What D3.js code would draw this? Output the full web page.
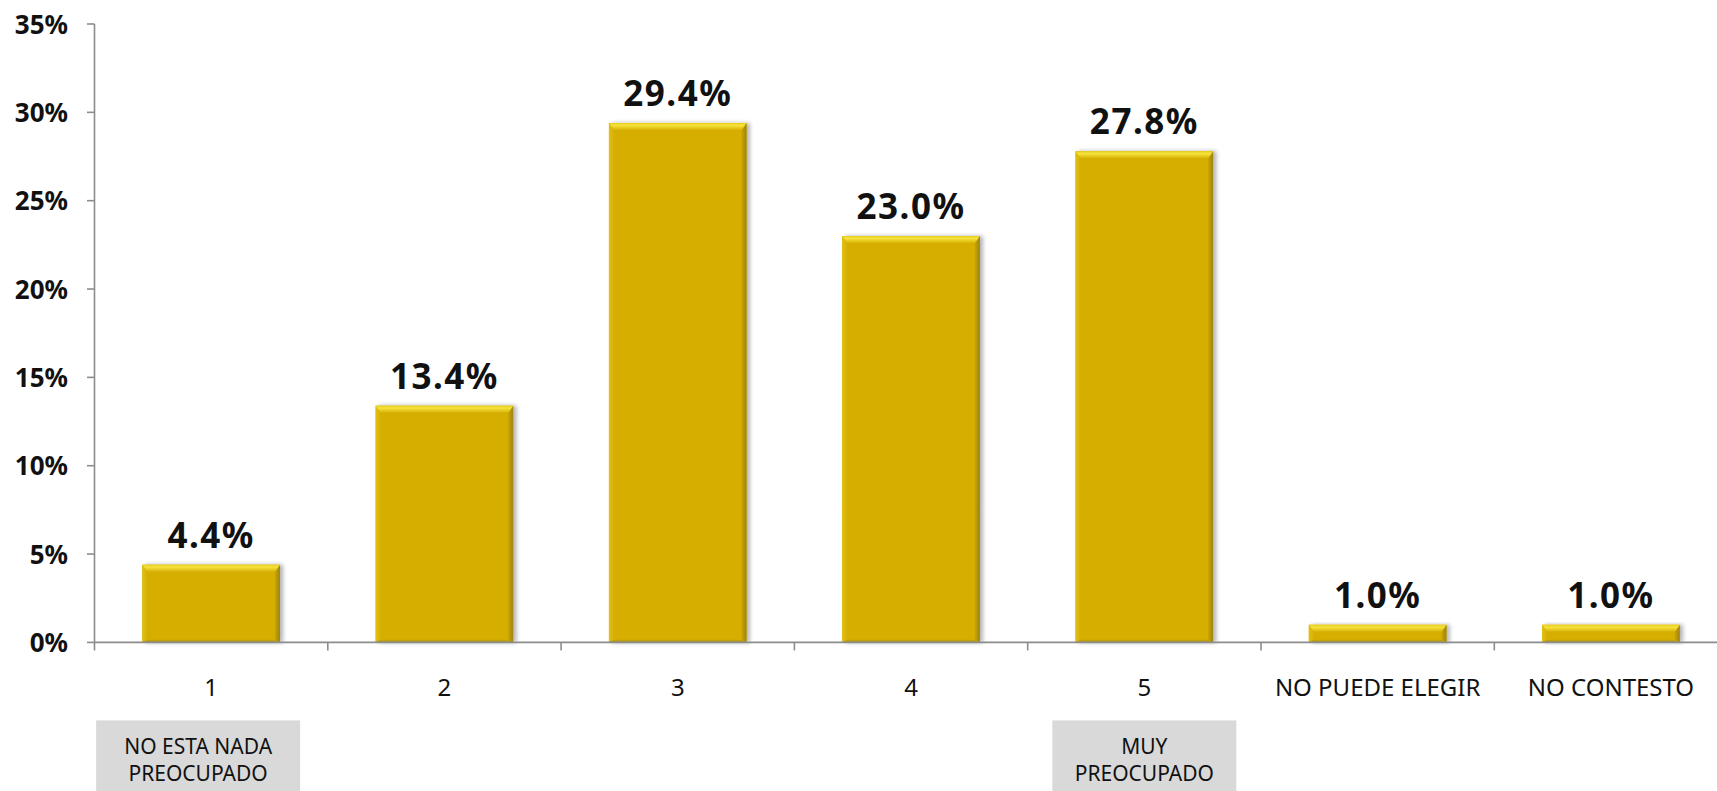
<!DOCTYPE html>
<html>
<head>
<meta charset="utf-8">
<script src="https://cdn.jsdelivr.net/npm/d3@7"></script>
<style>
  html, body { margin: 0; padding: 0; background: #ffffff; }
  svg { display: block; }
</style>
</head>
<body>
<div id="chart"></div>
<script>
// ---- data ----
const categories = ["1", "2", "3", "4", "5", "NO PUEDE ELEGIR", "NO CONTESTO"];
const values = [4.4, 13.4, 29.4, 23.0, 27.8, 1.0, 1.0];
const yTicks = [0, 5, 10, 15, 20, 25, 30, 35];
const noteCategories = ["1", "5"];
const noteLines = [["NO ESTA NADA", "PREOCUPADO"], ["MUY", "PREOCUPADO"]];

// ---- layout ----
const W = 1717, H = 791;
const plotLeft = 94.5, plotTop = 24, plotBottom = 642.4, catWidth = 233.3;
const noteLayout = [{ dx: -13, w: 204 }, { dx: 0, w: 184 }];

const svg = d3.select("#chart").append("svg")
  .attr("width", W).attr("height", H)
  .style("font-family", "'Noto Sans', 'Open Sans', sans-serif");

const x = d3.scaleBand()
  .domain(categories)
  .range([plotLeft, plotLeft + catWidth * categories.length])
  .paddingInner(0.41)
  .paddingOuter(0.205);

const xAxisScale = d3.scaleBand()
  .domain(categories)
  .range([plotLeft, plotLeft + catWidth * categories.length]);

const y = d3.scaleLinear().domain([0, 35]).range([plotBottom, plotTop]);

// defs: shadow + bevel gradients
const defs = svg.append("defs");
const f = defs.append("filter").attr("id", "shadow")
  .attr("x", "-10%").attr("y", "-10%").attr("width", "130%").attr("height", "130%");
f.append("feGaussianBlur").attr("in", "SourceAlpha").attr("stdDeviation", 2).attr("result", "blur");
f.append("feOffset").attr("in", "blur").attr("dx", 3).attr("dy", 0).attr("result", "off");
f.append("feComponentTransfer").attr("in", "off").attr("result", "shadow")
  .append("feFuncA").attr("type", "linear").attr("slope", 0.3);
const fm = f.append("feMerge");
fm.append("feMergeNode").attr("in", "shadow");
fm.append("feMergeNode").attr("in", "SourceGraphic");

function grad(id, x1, y1, x2, y2, stops) {
  const g = defs.append("linearGradient").attr("id", id)
    .attr("x1", x1).attr("y1", y1).attr("x2", x2).attr("y2", y2);
  stops.forEach(s => g.append("stop").attr("offset", s[0]).attr("stop-color", s[1]));
}
grad("gTop", 0, 0, 0, 1, [[0, "#E8CD1C"], [0.35, "#F6E33C"], [1, "#D9B307"]]);
grad("gLeft", 0, 0, 1, 0, [[0, "#E2C012"], [1, "#D6AF05"]]);
grad("gRight", 0, 0, 1, 0, [[0, "#C9A303"], [1, "#9C8410"]]);
grad("gBottom", 0, 0, 0, 1, [[0, "#CFA904"], [1, "#A89020"]]);

// ---- bars ----
const barData = categories.map((c, i) => ({ c, v: values[i] }));
const bars = svg.append("g").selectAll("g.bar")
  .data(barData)
  .join("g").attr("class", "bar").attr("filter", "url(#shadow)");

const pts = arr => arr.map(p => p.join(",")).join(" ");
bars.each(function(d) {
  const g = d3.select(this);
  const x0 = x(d.c), x1 = x(d.c) + x.bandwidth();
  const y0 = y(d.v), y1 = y(0);
  const h = y1 - y0;
  const bt = Math.min(7, h / 2), bs = Math.min(5, h / 2), bb = Math.min(3, h / 3);
  g.append("rect").attr("x", x0).attr("y", y0).attr("width", x1 - x0).attr("height", h)
    .attr("fill", "#D6AE04");
  g.append("polygon").attr("points", pts([[x0, y0], [x0 + bs, y0 + bt], [x0 + bs, y1 - bb], [x0, y1]]))
    .attr("fill", "url(#gLeft)");
  g.append("polygon").attr("points", pts([[x1, y0], [x1 - bs, y0 + bt], [x1 - bs, y1 - bb], [x1, y1]]))
    .attr("fill", "url(#gRight)");
  g.append("polygon").attr("points", pts([[x0, y1], [x0 + bs, y1 - bb], [x1 - bs, y1 - bb], [x1, y1]]))
    .attr("fill", "url(#gBottom)");
  g.append("polygon").attr("points", pts([[x0, y0], [x1, y0], [x1 - bs, y0 + bt], [x0 + bs, y0 + bt]]))
    .attr("fill", "url(#gTop)");
});

// value labels
svg.append("g").selectAll("text")
  .data(barData)
  .join("text")
  .attr("x", d => x(d.c) + x.bandwidth() / 2)
  .attr("y", d => y(d.v) - 17)
  .attr("text-anchor", "middle")
  .attr("font-size", 35).attr("font-weight", "bold").attr("fill", "#111")
  .attr("letter-spacing", 1.5)
  .text(d => d.v.toFixed(1) + "%");

// ---- axes ----
const axisColor = "#8c8c8c";
svg.append("line").attr("x1", plotLeft).attr("x2", plotLeft)
  .attr("y1", y(35)).attr("y2", y(0) + 8)
  .attr("stroke", axisColor).attr("stroke-width", 1.6);
svg.append("g").selectAll("line").data(yTicks).join("line")
  .attr("x1", plotLeft - 7.5).attr("x2", plotLeft)
  .attr("y1", d => y(d)).attr("y2", d => y(d))
  .attr("stroke", axisColor).attr("stroke-width", 1.6);
svg.append("g").selectAll("text").data(yTicks).join("text")
  .attr("x", 68).attr("y", d => y(d) + 9.5)
  .attr("text-anchor", "end")
  .attr("font-size", 26).attr("font-weight", "bold").attr("fill", "#111")
  .text(d => d + "%");

svg.append("line").attr("x1", plotLeft).attr("x2", xAxisScale.range()[1])
  .attr("y1", y(0)).attr("y2", y(0))
  .attr("stroke", axisColor).attr("stroke-width", 1.6);
svg.append("g").selectAll("line").data(categories.slice(1)).join("line")
  .attr("x1", d => xAxisScale(d)).attr("x2", d => xAxisScale(d))
  .attr("y1", y(0)).attr("y2", y(0) + 8)
  .attr("stroke", axisColor).attr("stroke-width", 1.6);
svg.append("g").selectAll("text").data(categories).join("text")
  .attr("x", d => xAxisScale(d) + xAxisScale.bandwidth() / 2)
  .attr("y", y(0) + 54)
  .attr("text-anchor", "middle")
  .attr("font-size", 24).attr("fill", "#111")
  .text(d => d);

// end notes (gray boxes)
const notes = svg.append("g").selectAll("g")
  .data(noteCategories.map((c, i) => ({ c, lines: noteLines[i], lay: noteLayout[i] })))
  .join("g");
notes.each(function(d) {
  const g = d3.select(this);
  const cx = xAxisScale(d.c) + xAxisScale.bandwidth() / 2 + d.lay.dx;
  g.append("rect").attr("x", cx - d.lay.w / 2).attr("y", y(0) + 78)
    .attr("width", d.lay.w).attr("height", 80).attr("fill", "#D9D9D9");
  d.lines.forEach((ln, i) => {
    g.append("text").attr("x", cx).attr("y", y(0) + 112 + i * 27)
      .attr("text-anchor", "middle").attr("font-size", 21).attr("fill", "#111")
      .text(ln);
  });
});
</script>
</body>
</html>
